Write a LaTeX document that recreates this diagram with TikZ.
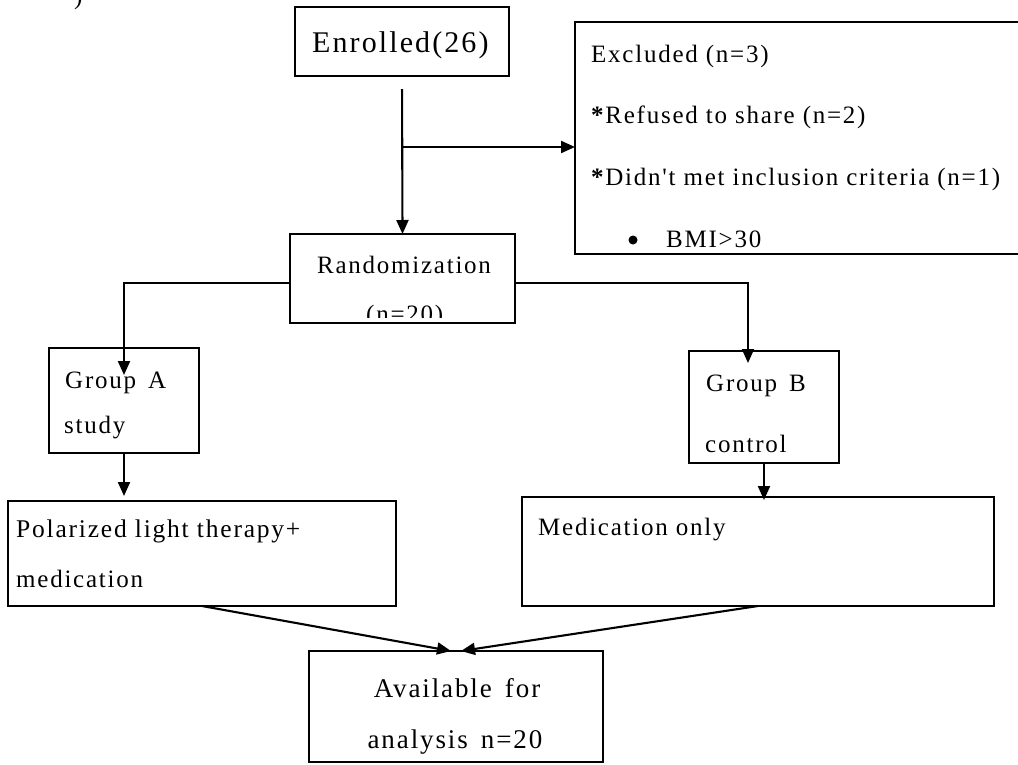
\documentclass[tikz,border=0pt]{standalone}
\usepackage{fontspec}
\setmainfont{Liberation Serif}
\newfontfamily\tfont[LetterSpace=7]{Liberation Serif}
\usetikzlibrary{arrows.meta,calc}
\begin{document}
\begin{tikzpicture}[x=1pt,y=-1pt,
  box/.style={draw, line width=2pt, inner sep=0, outer sep=0, anchor=north west},
  txt/.style={inner sep=0, anchor=base west, font=\tfont\fontsize{25}{30}\selectfont},
  ctxt/.style={txt, anchor=base},
  arr/.style={-{Triangle[length=14pt,width=12pt]}, line width=2.1pt},
  dot/.style={circle, fill, inner sep=0, minimum size=9pt}]
\useasboundingbox (0,0) rectangle (1018,764);

% boxes
\node[box, minimum width=214pt, minimum height=69pt] (enr) at (295,7) {};
\node[box, minimum width=470pt, minimum height=232pt] (exc) at (575,22) {};
\node[box, minimum width=225pt, minimum height=89pt] (rand) at (290,234) {};
\node[box, minimum width=150pt, minimum height=105pt] (ga) at (49,348) {};
\node[box, minimum width=150pt, minimum height=112pt] (gb) at (689,351) {};
\node[box, minimum width=388pt, minimum height=105pt] (pol) at (8,501) {};
\node[box, minimum width=472pt, minimum height=109pt] (med) at (522,497) {};
\node[box, minimum width=294pt, minimum height=111pt] (avail) at (309,651) {};

% texts
\node[txt] (frag) at (74,4) {)};
\node[txt, font=\tfont\fontsize{30}{34}\selectfont] (tenr) at (312,52) {Enrolled(26)};
\node[txt] (tex1) at (591,62) {Excluded (n=3)};
\node[txt] (tex2) at (591,123) {\textbf{*}Refused to share (n=2)};
\node[txt] (tex3) at (591,185) {\textbf{*}Didn't met inclusion criteria (n=1)};
\node[dot] (tbul) at (633,240) {};
\node[txt] (tbmi) at (666,247) {BMI>30};
\node[txt] (trand) at (317,273) {Randomization};
\begin{scope}
  \clip (rand.north west) rectangle ($(rand.south east)+(0,-6)$);
  \node[txt] (tn20) at (366,322) {(n=20)};
\end{scope}
\node[txt] (tga1) at (65,388) {Group\, A};
\node[txt] (tga2) at (64,433) {study};
\node[txt] (tgb1) at (706,391) {Group\, B};
\node[txt] (tgb2) at (705,452) {control};
\node[txt, font=\tfont\fontsize{25.5}{30}\selectfont] (tpol1) at (16,537) {Polarized light therapy+};
\node[txt] (tpol2) at (16,587) {medication};
\node[txt] (tmed) at (538,535) {Medication only};
\node[ctxt, font=\tfont\fontsize{27}{32}\selectfont] (tav1) at (457,697) {Available\, for};
\node[ctxt, font=\tfont\fontsize{27}{32}\selectfont] (tav2) at (455,748) {analysis\, n=20};

% connectors
\draw[arr, shorten <=13pt] (enr.south) -- (rand.north);
\path (enr.south) ++(0,71) coordinate (br);
\draw[arr] (br) -- (br -| exc.west);
\coordinate (rw) at ($(rand.west)+(0,4.5)$);
\coordinate (re) at ($(rand.east)+(0,4.5)$);
\draw[arr] (rw) -| ($(ga.north)+(0,27)$);
\draw[arr] (re) -| ($(gb.north)+(-16,12)$);
\draw[arr] (ga.south) -- ($(ga.south |- pol.north)+(0,-5)$);
\draw[arr] (gb.south) -- ($(gb.south |- med.north)+(0,3)$);
\draw[arr] (pol.south) -- ($(avail.north)+(-5,0)$);
\draw[arr] (med.south) -- ($(avail.north)+(5,0)$);
\end{tikzpicture}
\end{document}
